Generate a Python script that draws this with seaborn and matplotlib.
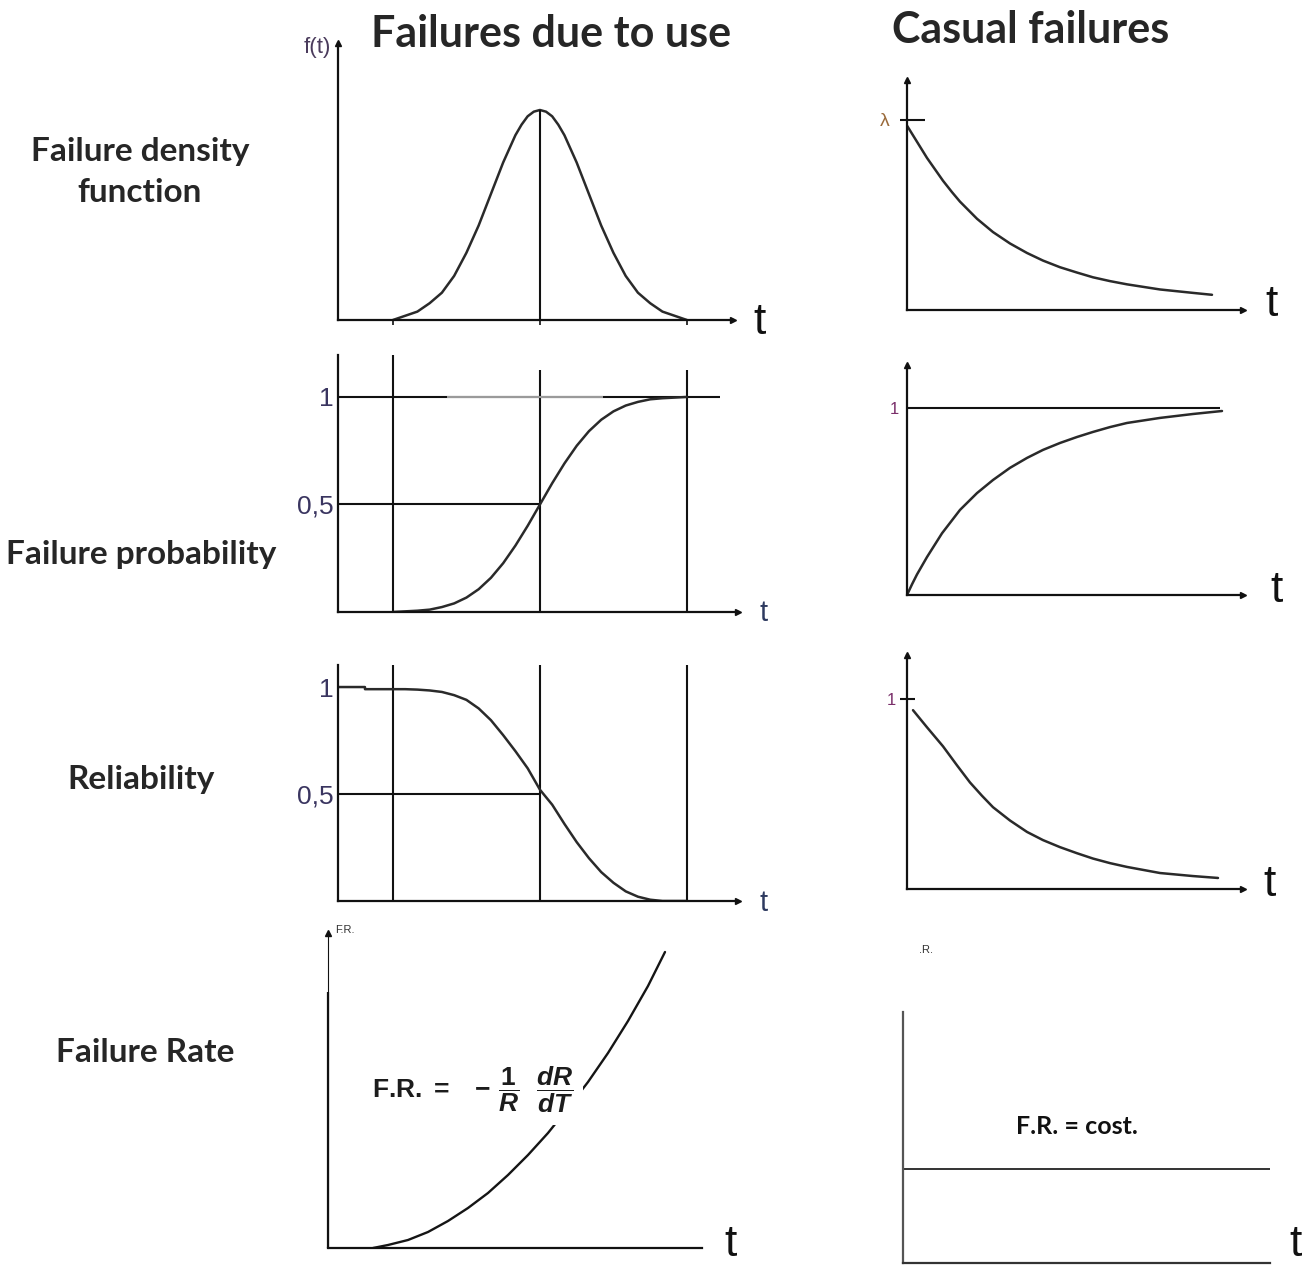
import matplotlib
matplotlib.use("Agg")
import matplotlib.pyplot as plt
import seaborn as sns

# ---------------- data ----------------
# "Failures due to use": t in units where the mean is 5 and guide lines sit at 2, 5, 8
use_dens_t = [2.0, 2.25, 2.5, 2.75, 3.0, 3.25, 3.5, 3.75, 4.0, 4.25, 4.5, 4.625, 4.75, 4.875, 5.0,
              5.125, 5.25, 5.375, 5.5, 5.75, 6.0, 6.25, 6.5, 6.75, 7.0, 7.25, 7.5, 7.75, 8.0]
use_density = [0.0, 0.02, 0.04, 0.08, 0.13, 0.21, 0.32, 0.45, 0.60, 0.75, 0.88, 0.93, 0.97, 0.992, 1.0,
               0.992, 0.97, 0.93, 0.88, 0.75, 0.60, 0.45, 0.32, 0.21, 0.13, 0.08, 0.04, 0.02, 0.0]
use_t = [2.0, 2.25, 2.5, 2.75, 3.0, 3.25, 3.5, 3.75, 4.0, 4.25, 4.5, 4.75, 5.0,
         5.25, 5.5, 5.75, 6.0, 6.25, 6.5, 6.75, 7.0, 7.25, 7.5, 7.75, 8.0]
use_prob = [0.0, 0.003, 0.006, 0.011, 0.023, 0.04, 0.067, 0.106, 0.159, 0.227, 0.309, 0.401, 0.5,
            0.599, 0.691, 0.773, 0.841, 0.894, 0.933, 0.96, 0.977, 0.989, 0.994, 0.997, 1.0]
use_rel_t = [0.88, 1.43, 1.43, 2.0, 2.25, 2.5, 2.75, 3.0, 3.25, 3.5, 3.75, 4.0, 4.25, 4.5,
             4.75, 5.0, 5.25, 5.5, 5.75, 6.0, 6.25, 6.5, 6.75, 7.0, 7.25, 7.5, 8.0]
use_rel = [1.0, 1.0, 0.99, 0.99, 0.99, 0.988, 0.984, 0.977, 0.962, 0.94, 0.90, 0.845, 0.775, 0.70,
           0.62, 0.52, 0.45, 0.36, 0.275, 0.20, 0.135, 0.085, 0.045, 0.02, 0.006, 0.0, 0.0]
use_guides = [2, 5, 8]
use_fr_t = [0.45, 0.6, 0.8, 1.0, 1.2, 1.4, 1.6, 1.8, 2.0, 2.2, 2.4, 2.6, 2.8, 3.0, 3.2, 3.37]
use_fr = [0.0, 0.03, 0.08, 0.16, 0.27, 0.40, 0.55, 0.73, 0.93, 1.15, 1.40, 1.66, 1.95, 2.27, 2.62, 2.96]

# "Casual failures"
cas_dens_t = [0.0, 0.1, 0.2, 0.28, 0.36, 0.45, 0.53, 0.7, 0.86, 1.03, 1.2, 1.36, 1.53, 1.7,
              1.86, 2.03, 2.2, 2.53, 2.86, 3.05]
cas_density = [0.97, 0.885, 0.80, 0.74, 0.68, 0.62, 0.57, 0.48, 0.41, 0.35, 0.30, 0.26, 0.225, 0.197,
               0.172, 0.152, 0.135, 0.108, 0.09, 0.08]
cas_prob_t = [0.0, 0.05, 0.1, 0.2, 0.35, 0.53, 0.7, 0.86, 1.03, 1.2, 1.36, 1.53, 1.7, 1.86,
              2.03, 2.2, 2.53, 2.86, 3.15]
cas_prob = [0.0, 0.057, 0.11, 0.203, 0.33, 0.455, 0.545, 0.615, 0.68, 0.733, 0.776, 0.813, 0.845, 0.872,
            0.898, 0.92, 0.947, 0.968, 0.984]
cas_rel_t = [0.06, 0.13, 0.2, 0.28, 0.36, 0.5, 0.63, 0.75, 0.86, 1.03, 1.2, 1.36, 1.53, 1.7,
             1.86, 2.03, 2.2, 2.53, 2.86, 3.11]
cas_rel = [0.94, 0.895, 0.85, 0.80, 0.75, 0.65, 0.56, 0.49, 0.43, 0.36, 0.30, 0.257, 0.22, 0.188,
           0.16, 0.136, 0.116, 0.084, 0.068, 0.058]
cas_fr_t = [0.0, 3.67]
cas_fr = [0.94, 0.94]

col_titles = ["Failures due to use", "Casual failures"]
row_titles = ["Failure density\nfunction", "Failure probability", "Reliability", "Failure Rate"]
prob_ticks = [0.5, 1.0]
prob_ticklabels = ["0,5", "1"]

# ---------------- styling ----------------
sns.set_style("white")
plt.rcParams["font.family"] = ["Liberation Sans", "DejaVu Sans"]
plt.rcParams["mathtext.fontset"] = "custom"
plt.rcParams["mathtext.rm"] = "Liberation Sans:bold"
plt.rcParams["mathtext.it"] = "Liberation Sans:italic:bold"
plt.rcParams["mathtext.bf"] = "Liberation Sans:bold"

W, H = 1307, 1268
fig = plt.figure(figsize=(W / 100, H / 100), dpi=100)
fig.patch.set_facecolor("white")

CURVE = "#2a2a2a"
AX = "#111111"
LABEL = "#3a3560"
TITLE_FONT = ["Lato", "DejaVu Sans"]


def make_ax(x0, x1, ytop, ybot, xlim, ylim, lw=1.6):
    ax = fig.add_axes([x0 / W, 1 - ybot / H, (x1 - x0) / W, (ybot - ytop) / H])
    ax.set_xlim(xlim)
    ax.set_ylim(ylim)
    for s in ["top", "right"]:
        ax.spines[s].set_visible(False)
    for s in ["left", "bottom"]:
        ax.spines[s].set_color(AX)
        ax.spines[s].set_linewidth(lw)
    ax.set_xticks([])
    ax.set_yticks([])
    ax.patch.set_alpha(0)
    return ax


def arrows(ax, right=True, top=True, ms=5):
    if right:
        ax.plot(1, 0, ">", color=AX, ms=ms, transform=ax.transAxes, clip_on=False)
    if top:
        ax.plot(0, 1, "^", color=AX, ms=ms, transform=ax.transAxes, clip_on=False)


def fig_text(x, y, s, **kw):
    fig.text(x / W, 1 - y / H, s, **kw)


def curve(ax, x, y, **kw):
    sns.lineplot(x=x, y=y, ax=ax, color=kw.pop("color", CURVE), lw=kw.pop("lw", 1.8),
                 estimator=None, sort=False, **kw)


# ---------- A: failure density, use ----------
A = make_ax(338, 733, 43, 320, (0.88, 8.94), (0, 1.319))
curve(A, use_dens_t, use_density)
A.vlines(5, 0, 1.0, color=AX, lw=1.5)
A.vlines(use_guides, -0.025, 0, color=AX, lw=1.2, clip_on=False)
arrows(A)
fig_text(317, 48, "f(t)", ha="center", va="center", fontsize=16, color="#4a3b5c")
fig_text(760, 322, "t", ha="center", va="center", fontsize=32, color="#111111")

# ---------- B: failure density, casual ----------
B = make_ax(907, 1243, 80, 310, (0, 3.36), (0, 1.21))
curve(B, cas_dens_t, cas_density)
B.hlines(1, -0.07, 0.18, color=AX, lw=1.5, clip_on=False)
arrows(B, ms=4)
fig_text(885, 122, "λ", ha="center", va="center", fontsize=14, color="#9a6a3a")
fig_text(1272, 304, "t", ha="center", va="center", fontsize=32, color="#111111")

# ---------- C: failure probability, use ----------
C = make_ax(338, 738, 355, 612, (0.88, 9.04), (0, 1.195))
C.vlines(use_guides[0], 0, 1.195, color=AX, lw=1.5)
C.vlines(use_guides[1:], 0, 1.126, color=AX, lw=1.5)
C.hlines(1, 0.88, 8.67, color=AX, lw=1.5)
C.hlines(1, 3.1, 6.29, color="#9a9a9a", lw=1.5)
C.hlines(0.5, 0.88, 5, color=AX, lw=1.5)
curve(C, use_t, use_prob)
C.set_yticks(prob_ticks)
C.set_yticklabels(prob_ticklabels, fontsize=19, color=LABEL)
C.tick_params(axis="y", length=0, pad=3)
arrows(C, top=False)
fig_text(764, 613, "t", ha="center", va="center", fontsize=21, color="#2e3a60")

# ---------- D: failure probability, casual ----------
D = make_ax(907, 1243, 365, 595, (0, 3.36), (0, 1.23))
D.hlines(1, 0, 3.13, color=AX, lw=1.5)
curve(D, cas_prob_t, cas_prob)
D.set_yticks([1.0])
D.set_yticklabels(["1"], fontsize=12, color="#7a2f6a")
D.tick_params(axis="y", length=0, pad=6)
arrows(D, ms=4)
fig_text(1277, 590, "t", ha="center", va="center", fontsize=32, color="#111111")

# ---------- E: reliability, use ----------
E = make_ax(338, 738, 665, 901, (0.88, 9.04), (0, 1.103))
E.vlines(use_guides, 0, 1.103, color=AX, lw=1.5)
E.hlines(0.5, 0.88, 5, color=AX, lw=1.5)
curve(E, use_rel_t, use_rel)
E.set_yticks(prob_ticks)
E.set_yticklabels(prob_ticklabels, fontsize=19, color=LABEL)
E.tick_params(axis="y", length=0, pad=3)
arrows(E, top=False)
fig_text(764, 903, "t", ha="center", va="center", fontsize=21, color="#2e3a60")

# ---------- F: reliability, casual ----------
F = make_ax(907, 1243, 655, 889, (0, 3.36), (0, 1.23))
curve(F, cas_rel_t, cas_rel)
F.hlines(1, -0.07, 0.08, color=AX, lw=1.5, clip_on=False)
F.set_yticks([1.0])
F.set_yticklabels(["1"], fontsize=12, color="#7a2f6a")
F.tick_params(axis="y", length=0, pad=8)
arrows(F, ms=4)
fig_text(1270, 884, "t", ha="center", va="center", fontsize=32, color="#111111")

# ---------- G: failure rate, use ----------
G = make_ax(328, 702, 933, 1248, (0, 3.74), (0, 3.15))
G.spines["left"].set_linewidth(0.8)
G.vlines(0, 0, 2.56, color=AX, lw=1.6, clip_on=False)
curve(G, use_fr_t, use_fr, lw=1.7, color="#151515")
arrows(G, right=False, ms=4)
fig_text(335, 930, "F.R.", ha="left", va="center", fontsize=8, color="#333333")
G.text(1.45, 1.58, r"F.R. $=\ \ -\,\dfrac{\mathit{1}}{R}\ \ \dfrac{dR}{dT}$",
       ha="center", va="center", fontsize=19, fontweight="bold", color="#1c1c1c",
       bbox=dict(fc="white", ec="none", pad=7))
fig_text(731, 1244, "t", ha="center", va="center", fontsize=32, color="#111111")

# ---------- H: failure rate, casual ----------
Hx = make_ax(903, 1270, 1012, 1263, (0, 3.67), (0, 2.51))
Hx.spines["left"].set_color("#555555")
Hx.spines["bottom"].set_color("#333333")
curve(Hx, cas_fr_t, cas_fr, lw=1.4, color="#333333")
fig_text(919, 950, ".R.", ha="left", va="center", fontsize=8, color="#333333")
Hx.text(1.74, 1.36, "F.R. = cost.", ha="center", va="center", fontsize=18,
        fontweight="bold", family=TITLE_FONT, color="#111111")
fig_text(1296, 1244, "t", ha="center", va="center", fontsize=32, color="#111111")

# ---------- titles and row labels ----------
fig_text(551, 34, col_titles[0], ha="center", va="center", fontsize=31,
         fontweight="bold", family=TITLE_FONT)
fig_text(1031, 30, col_titles[1], ha="center", va="center", fontsize=31,
         fontweight="bold", family=TITLE_FONT)
fig_text(140, 172, row_titles[0], ha="center", va="center", fontsize=24,
         fontweight="bold", family=TITLE_FONT, linespacing=1.5)
fig_text(141, 555, row_titles[1], ha="center", va="center", fontsize=24,
         fontweight="bold", family=TITLE_FONT)
fig_text(141, 780, row_titles[2], ha="center", va="center", fontsize=24,
         fontweight="bold", family=TITLE_FONT)
fig_text(145, 1052, row_titles[3], ha="center", va="center", fontsize=24,
         fontweight="bold", family=TITLE_FONT)

fig.savefig("out.png", dpi=100, facecolor="white")
